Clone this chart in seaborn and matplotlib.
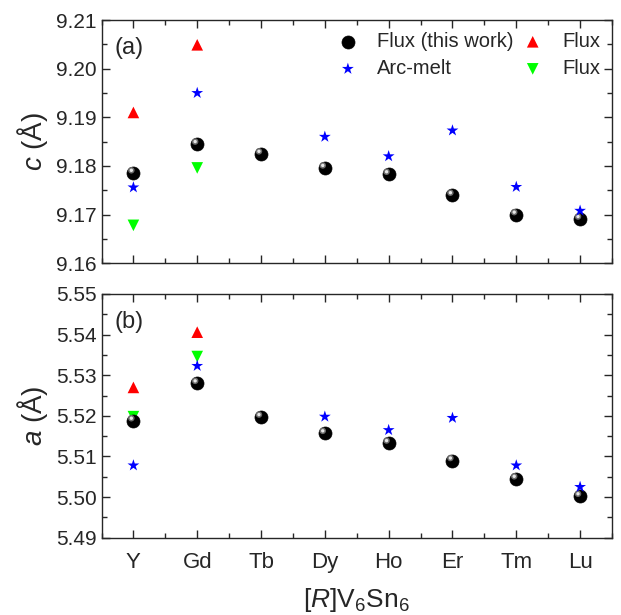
import numpy as np
import pandas as pd
import matplotlib
matplotlib.use("Agg")
import matplotlib.pyplot as plt
import matplotlib.transforms as mtransforms
from matplotlib.ticker import MultipleLocator, FixedLocator
import seaborn as sns

elements = ["Y", "Gd", "Tb", "Dy", "Ho", "Er", "Tm", "Lu"]

# c lattice parameter (Å)
c_flux_this = [9.1786, 9.1845, 9.1825, 9.1796, 9.1783, 9.1740, 9.1700, 9.1691]
c_arc_el = ["Y", "Gd", "Dy", "Ho", "Er", "Tm", "Lu"]
c_arc = [9.1756, 9.1950, 9.1860, 9.1820, 9.1873, 9.1757, 9.1708]
c_flux_red_el = ["Y", "Gd"]
c_flux_red = [9.1910, 9.2049]
c_flux_green_el = ["Y", "Gd"]
c_flux_green = [9.1678, 9.1796]

# a lattice parameter (Å)
a_flux_this = [5.5188, 5.5280, 5.5197, 5.5157, 5.5133, 5.5090, 5.5045, 5.5002]
a_arc_el = ["Y", "Gd", "Dy", "Ho", "Er", "Tm", "Lu"]
a_arc = [5.5078, 5.5323, 5.5198, 5.5165, 5.5195, 5.5078, 5.5025]
a_flux_red_el = ["Y", "Gd"]
a_flux_red = [5.5270, 5.5406]
a_flux_green_el = ["Y", "Gd"]
a_flux_green = [5.5198, 5.5346]

sns.set_style("ticks")
plt.rcParams["font.family"] = ["Liberation Sans", "DejaVu Sans"]
plt.rcParams["mathtext.fontset"] = "custom"
plt.rcParams["mathtext.it"] = "Liberation Sans:italic"
plt.rcParams["mathtext.rm"] = "Liberation Sans"

pos = {e: i for i, e in enumerate(elements)}

fig = plt.figure(figsize=(6.21, 6.15), dpi=100)
ax1 = fig.add_axes([101.5/621, 1-263.3/615, 510.5/621, 243.3/615])
ax2 = fig.add_axes([101.5/621, 1-537.7/615, 510.5/621, 243.7/615])


def draw(ax, flux, arc_el, arc, red_el, red, green_el, green):
    df_f = pd.DataFrame({"x": [pos[e] for e in elements], "y": flux})
    df_a = pd.DataFrame({"x": [pos[e] for e in arc_el], "y": arc})
    df_r = pd.DataFrame({"x": [pos[e] for e in red_el], "y": red})
    df_g = pd.DataFrame({"x": [pos[e] for e in green_el], "y": green})
    sns.scatterplot(data=df_r, x="x", y="y", ax=ax, marker="^", color="#ff0000",
                    s=70, edgecolor="none", label="Flux", zorder=3)
    sns.scatterplot(data=df_g, x="x", y="y", ax=ax, marker="v", color="#00ff00",
                    s=70, edgecolor="none", label="Flux", zorder=3)
    sns.scatterplot(data=df_f, x="x", y="y", ax=ax, marker="o", color="black",
                    s=88, edgecolor="black", linewidth=0.5, label="Flux (this work)", zorder=4)
    # highlight to mimic the glossy spheres
    off = mtransforms.offset_copy(ax.transData, fig=fig, x=-1.5, y=1.8, units="points")
    ax.scatter(df_f["x"], df_f["y"], s=22, color="#6a6a6a", edgecolor="none",
               transform=off, zorder=5)
    ax.scatter(df_f["x"], df_f["y"], s=6, color="#e6e6e6", edgecolor="none",
               transform=off, zorder=5)
    sns.scatterplot(data=df_a, x="x", y="y", ax=ax, marker="*", color="#0000ff",
                    s=80, edgecolor="none", label="Arc-melt", zorder=6)
    ax.set_xlim(-0.5, 7.5)
    ax.xaxis.set_major_locator(FixedLocator(range(len(elements))))
    ax.xaxis.set_minor_locator(MultipleLocator(0.5))
    ax.yaxis.set_major_locator(MultipleLocator(0.01))
    ax.yaxis.set_minor_locator(MultipleLocator(0.005))
    ax.tick_params(which="both", direction="in", top=True, right=True, width=1.0)
    ax.tick_params(which="major", length=6, labelsize=15)
    ax.tick_params(which="minor", length=3.5)
    for sp in ax.spines.values():
        sp.set_linewidth(1.0)
        sp.set_visible(True)
    ax.get_legend().remove()


draw(ax1, c_flux_this, c_arc_el, c_arc, c_flux_red_el, c_flux_red,
     c_flux_green_el, c_flux_green)
draw(ax2, a_flux_this, a_arc_el, a_arc, a_flux_red_el, a_flux_red,
     a_flux_green_el, a_flux_green)

ax1.set_ylim(9.16, 9.21)
ax2.set_ylim(5.49, 5.55)
ax1.yaxis.set_major_formatter(matplotlib.ticker.FormatStrFormatter("%.2f"))
ax2.yaxis.set_major_formatter(matplotlib.ticker.FormatStrFormatter("%.2f"))
ax1.set_xticklabels([])
ax2.set_xticklabels(elements)
ax2.tick_params(axis="x", which="major", pad=10, labelsize=16)
ax1.set_xlabel("")
ax2.set_xlabel(r"[$\it{R}$]V$_6$Sn$_6$", fontsize=19, labelpad=10)
ax1.set_ylabel(r"$\it{c}$ (Å)", fontsize=20, labelpad=4)
ax2.set_ylabel(r"$\it{a}$ (Å)", fontsize=20, labelpad=4)

ax1.text(0.025, 0.885, "(a)", transform=ax1.transAxes, fontsize=17, va="center")
ax2.text(0.025, 0.885, "(b)", transform=ax2.transAxes, fontsize=17, va="center")

h, l = ax1.get_legend_handles_labels()
first = [i for i, t in enumerate(l) if t == "Flux (this work)"][0]
arcm = [i for i, t in enumerate(l) if t == "Arc-melt"][0]
fl = [i for i, t in enumerate(l) if t == "Flux"]
order = [first, arcm] + fl
ax1.legend([h[i] for i in order], [l[i] for i in order], ncol=2, loc="upper right",
           frameon=False, fontsize=14.5, handlelength=1.0, handletextpad=0.95,
           columnspacing=0.45, labelspacing=0.4, borderaxespad=0.2,
           bbox_to_anchor=(1.0, 1.0))

fig.savefig("out.png", dpi=100)
